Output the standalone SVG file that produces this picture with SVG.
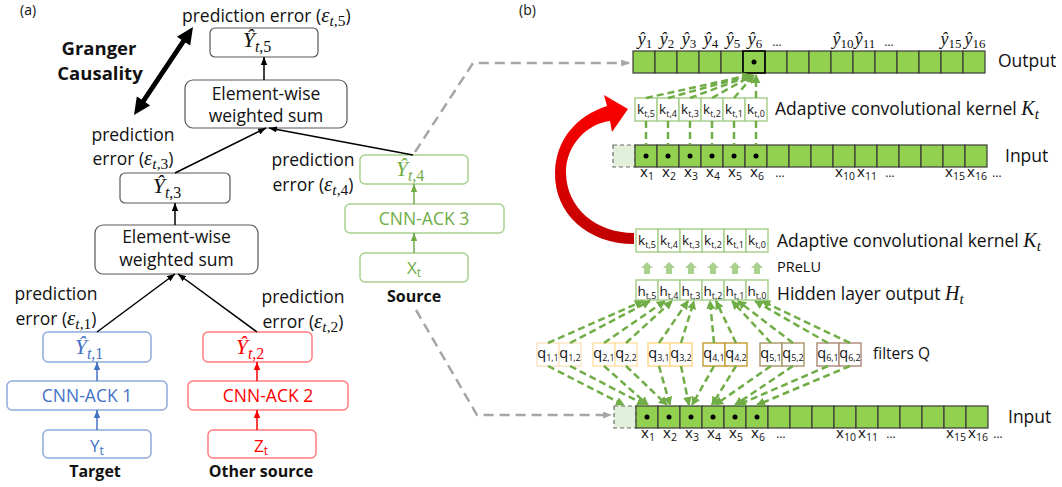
<svg xmlns="http://www.w3.org/2000/svg" xmlns:xlink="http://www.w3.org/1999/xlink" width="1062" height="487" viewBox="0 0 1062 487">
<defs>
<style>
.t{font-family:"Open Sans","Liberation Sans",sans-serif;fill:#111}
.b{font-family:"Open Sans","Liberation Sans",sans-serif;font-weight:bold;fill:#111}
.m{font-family:"Liberation Serif","DejaVu Serif",serif;font-style:italic}
.n{font-family:"Liberation Serif","DejaVu Serif",serif;font-style:normal}
.bx{fill:#fff;stroke:#595959;stroke-width:1.2}
.bl{fill:#fff;stroke:#8FAADC;stroke-width:1.5}
.rd{fill:#fff;stroke:#FF7C80;stroke-width:1.5}
.gr{fill:#fff;stroke:#A9D18E;stroke-width:1.5}
.cell{fill:#92D050;stroke:#3A3A3A;stroke-width:1.2}
.kc{fill:#fff;stroke:#A9D18E;stroke-width:1.5}
.pad{fill:#E2EFDA;stroke:#6B6B6B;stroke-width:1.2;stroke-dasharray:4 3}
.ln{stroke:#000;stroke-width:1.5;fill:none}
.gd{stroke:#70AD47;stroke-width:2.5;stroke-dasharray:7 4;fill:none}
.gy{stroke:#A6A6A6;stroke-width:2.5;stroke-dasharray:10 6;fill:none}
.lab{font-family:"Open Sans","Liberation Sans",sans-serif;font-size:13.5px;fill:#111}
</style>
<marker id="ak" viewBox="0 0 10 8" refX="10" refY="4" markerWidth="8" markerHeight="6.4" markerUnits="userSpaceOnUse" orient="auto"><path d="M0,0 L10,4 L0,8 z" fill="#000"/></marker>
<marker id="ab" viewBox="0 0 10 8" refX="10" refY="4" markerWidth="8" markerHeight="6.4" markerUnits="userSpaceOnUse" orient="auto"><path d="M0,0 L10,4 L0,8 z" fill="#4472C4"/></marker>
<marker id="ar" viewBox="0 0 10 8" refX="10" refY="4" markerWidth="8" markerHeight="6.4" markerUnits="userSpaceOnUse" orient="auto"><path d="M0,0 L10,4 L0,8 z" fill="#FF0000"/></marker>
<marker id="ag" viewBox="0 0 10 8" refX="10" refY="4" markerWidth="8" markerHeight="6.4" markerUnits="userSpaceOnUse" orient="auto"><path d="M0,0 L10,4 L0,8 z" fill="#70AD47"/></marker>
<marker id="agd" viewBox="0 0 10 10" refX="9" refY="5" markerWidth="9" markerHeight="9" markerUnits="userSpaceOnUse" orient="auto"><path d="M0,0 L10,5 L0,10 z" fill="#70AD47"/></marker>
<marker id="agy" viewBox="0 0 10 8" refX="9" refY="4" markerWidth="9" markerHeight="7" markerUnits="userSpaceOnUse" orient="auto"><path d="M0,0 L10,4 L0,8 z" fill="#A6A6A6"/></marker>
<linearGradient id="redg" x1="0" y1="0" x2="0" y2="1">
<stop offset="0" stop-color="#FF0000"/>
<stop offset="1" stop-color="#C00000"/>
</linearGradient>
<g id="row">
<rect class="cell" x="0" y="0" width="22" height="22"/><rect class="cell" x="22" y="0" width="22" height="22"/><rect class="cell" x="44" y="0" width="22" height="22"/><rect class="cell" x="66" y="0" width="22" height="22"/>
<rect class="cell" x="88" y="0" width="22" height="22"/><rect class="cell" x="110" y="0" width="22" height="22"/><rect class="cell" x="132" y="0" width="22" height="22"/><rect class="cell" x="154" y="0" width="22" height="22"/>
<rect class="cell" x="176" y="0" width="22" height="22"/><rect class="cell" x="198" y="0" width="22" height="22"/><rect class="cell" x="220" y="0" width="22" height="22"/><rect class="cell" x="242" y="0" width="22" height="22"/>
<rect class="cell" x="264" y="0" width="22" height="22"/><rect class="cell" x="286" y="0" width="22" height="22"/><rect class="cell" x="308" y="0" width="22" height="22"/><rect class="cell" x="330" y="0" width="22" height="22"/>
</g>
<g id="dots6">
<circle cx="11" cy="11" r="2.5"/><circle cx="33" cy="11" r="2.5"/><circle cx="55" cy="11" r="2.5"/><circle cx="77" cy="11" r="2.5"/><circle cx="99" cy="11" r="2.5"/><circle cx="121" cy="11" r="2.5"/>
</g>
<g id="xlabels" class="t" font-size="15" text-anchor="middle">
<text x="12" y="0">x<tspan font-size="10.5" dy="3">1</tspan></text>
<text x="34" y="0">x<tspan font-size="10.5" dy="3">2</tspan></text>
<text x="56" y="0">x<tspan font-size="10.5" dy="3">3</tspan></text>
<text x="78" y="0">x<tspan font-size="10.5" dy="3">4</tspan></text>
<text x="100" y="0">x<tspan font-size="10.5" dy="3">5</tspan></text>
<text x="122" y="0">x<tspan font-size="10.5" dy="3">6</tspan></text>
<text x="145" y="0" font-size="12">…</text>
<text x="210" y="0">x<tspan font-size="10.5" dy="3">10</tspan></text>
<text x="232" y="0">x<tspan font-size="10.5" dy="3">11</tspan></text>
<text x="255" y="0" font-size="12">…</text>
<text x="320" y="0">x<tspan font-size="10.5" dy="3">15</tspan></text>
<text x="342" y="0">x<tspan font-size="10.5" dy="3">16</tspan></text>
<text x="362" y="0" font-size="12">…</text>
</g>
<g id="klabels" class="lab" text-anchor="middle">
<text x="11" y="0">k<tspan font-size="9" dy="3">t,5</tspan></text>
<text x="33" y="0">k<tspan font-size="9" dy="3">t,4</tspan></text>
<text x="55" y="0">k<tspan font-size="9" dy="3">t,3</tspan></text>
<text x="77" y="0">k<tspan font-size="9" dy="3">t,2</tspan></text>
<text x="99" y="0">k<tspan font-size="9" dy="3">t,1</tspan></text>
<text x="121" y="0">k<tspan font-size="9" dy="3">t,0</tspan></text>
</g>
<g id="kcells">
<rect class="kc" x="0" y="0" width="22" height="23"/><rect class="kc" x="22" y="0" width="22" height="23"/><rect class="kc" x="44" y="0" width="22" height="23"/><rect class="kc" x="66" y="0" width="22" height="23"/><rect class="kc" x="88" y="0" width="22" height="23"/><rect class="kc" x="110" y="0" width="22" height="23"/>
</g>
<path id="prelu" d="M0,0 L6,6 L3,6 L3,12 L-3,12 L-3,6 L-6,6 z" fill="#A9D18E"/>
</defs>

<!-- ===== Panel (a) ===== -->
<text class="t" x="20" y="15" font-size="14">(a)</text>

<g id="granger">
<polygon points="193,27 190.2,45.6 185.5,42.4 145.5,102.2 150.1,105.4 134,115 136.8,96.4 141.5,99.6 181.5,39.8 176.9,36.7" fill="#000"/>
<text class="b" x="99" y="55" font-size="18.5" text-anchor="middle">Granger</text>
<text class="b" x="100" y="80" font-size="18.5" text-anchor="middle">Causality</text>
</g>

<g id="err5">
<text class="t" x="182" y="22" font-size="17.5">prediction error (<tspan class="m" font-size="21">ε</tspan><tspan class="m" font-size="15.5" dy="4">t</tspan><tspan class="n" font-size="15.5">,5</tspan><tspan dy="-4">)</tspan></text>
</g>

<g id="yhat5">
<rect class="bx" x="210" y="28" width="108" height="29" rx="5"/>
<text class="m" x="257" y="47" font-size="22" text-anchor="middle" fill="#111">Ŷ<tspan font-size="16" dy="5">t</tspan><tspan class="n" font-size="16">,5</tspan></text>
</g>

<g id="ews_top">
<rect class="bx" x="185" y="80" width="162" height="48" rx="8"/>
<text class="t" x="266" y="100" font-size="17.5" text-anchor="middle">Element-wise</text>
<text class="t" x="266" y="122" font-size="17.5" text-anchor="middle">weighted sum</text>
</g>

<g id="err3">
<text class="t" x="133" y="141" font-size="17.5" text-anchor="middle">prediction</text>
<text class="t" x="133" y="165" font-size="17.5" text-anchor="middle">error (<tspan class="m" font-size="21">ε</tspan><tspan class="m" font-size="15.5" dy="4">t</tspan><tspan class="n" font-size="15.5">,3</tspan><tspan dy="-4">)</tspan></text>
</g>

<g id="yhat3">
<rect class="bx" x="120" y="173" width="110" height="30" rx="5"/>
<text class="m" x="167" y="193" font-size="22" text-anchor="middle" fill="#111">Ŷ<tspan font-size="16" dy="5">t</tspan><tspan class="n" font-size="16">,3</tspan></text>
</g>

<g id="err4">
<text class="t" x="313" y="166" font-size="17.5" text-anchor="middle">prediction</text>
<text class="t" x="313" y="191" font-size="17.5" text-anchor="middle">error (<tspan class="m" font-size="21">ε</tspan><tspan class="m" font-size="15.5" dy="4">t</tspan><tspan class="n" font-size="15.5">,4</tspan><tspan dy="-4">)</tspan></text>
</g>

<g id="ews_low">
<rect class="bx" x="95" y="225" width="163" height="49" rx="8"/>
<text class="t" x="176.5" y="243" font-size="17.5" text-anchor="middle">Element-wise</text>
<text class="t" x="176.5" y="266" font-size="17.5" text-anchor="middle">weighted sum</text>
</g>

<g id="err1">
<text class="t" x="56" y="300" font-size="17.5" text-anchor="middle">prediction</text>
<text class="t" x="56" y="325" font-size="17.5" text-anchor="middle">error (<tspan class="m" font-size="21">ε</tspan><tspan class="m" font-size="15.5" dy="4">t</tspan><tspan class="n" font-size="15.5">,1</tspan><tspan dy="-4">)</tspan></text>
</g>

<g id="err2">
<text class="t" x="303" y="303" font-size="17.5" text-anchor="middle">prediction</text>
<text class="t" x="303" y="328" font-size="17.5" text-anchor="middle">error (<tspan class="m" font-size="21">ε</tspan><tspan class="m" font-size="15.5" dy="4">t</tspan><tspan class="n" font-size="15.5">,2</tspan><tspan dy="-4">)</tspan></text>
</g>

<g id="yhat1">
<rect class="bl" x="43" y="332" width="108" height="30" rx="5"/>
<text class="m" x="89" y="354" font-size="22" text-anchor="middle" fill="#4472C4">Ŷ<tspan font-size="16" dy="5">t</tspan><tspan class="n" font-size="16">,1</tspan></text>
</g>
<g id="cnn1">
<rect class="bl" x="7" y="381" width="160" height="29" rx="5"/>
<text class="t" x="87" y="402" font-size="17.5" text-anchor="middle" style="fill:#4472C4">CNN-ACK 1</text>
</g>
<g id="yt">
<rect class="bl" x="43" y="430" width="108" height="28" rx="5"/>
<text class="t" x="97" y="452" font-size="17" text-anchor="middle" style="fill:#4472C4">Y<tspan font-size="12" dy="3">t</tspan></text>
</g>
<text class="b" x="95" y="477" font-size="16" text-anchor="middle">Target</text>

<g id="yhat2">
<rect class="rd" x="203" y="332" width="109" height="30" rx="5"/>
<text class="m" x="250" y="354" font-size="22" text-anchor="middle" fill="#FF0000">Ŷ<tspan font-size="16" dy="5">t</tspan><tspan class="n" font-size="16">,2</tspan></text>
</g>
<g id="cnn2">
<rect class="rd" x="188" y="381" width="160" height="29" rx="5"/>
<text class="t" x="268" y="402" font-size="17.5" text-anchor="middle" style="fill:#FF0000">CNN-ACK 2</text>
</g>
<g id="zt">
<rect class="rd" x="208" y="430" width="108" height="28" rx="5"/>
<text class="t" x="261" y="452" font-size="17" text-anchor="middle" style="fill:#FF0000">Z<tspan font-size="12" dy="3">t</tspan></text>
</g>
<text class="b" x="261" y="477" font-size="16" text-anchor="middle">Other source</text>

<g id="yhat4">
<rect class="gr" x="360" y="155" width="108" height="29" rx="5"/>
<text class="m" x="410" y="176" font-size="22" text-anchor="middle" fill="#70AD47">Ŷ<tspan font-size="16" dy="5">t</tspan><tspan class="n" font-size="16">,4</tspan></text>
</g>
<g id="cnn3">
<rect class="gr" x="345" y="204" width="159" height="29" rx="5"/>
<text class="t" x="424" y="225" font-size="17.5" text-anchor="middle" style="fill:#70AD47">CNN-ACK 3</text>
</g>
<g id="xt">
<rect class="gr" x="360" y="253" width="108" height="29" rx="5"/>
<text class="t" x="414" y="274" font-size="17" text-anchor="middle" style="fill:#70AD47">X<tspan font-size="12" dy="3">t</tspan></text>
</g>
<text class="b" x="414" y="302" font-size="16" text-anchor="middle">Source</text>

<!-- ===== Panel (b) ===== -->
<text class="t" x="519" y="15" font-size="14">(b)</text>

<g id="output_row">
<use xlink:href="#row" href="#row" x="633" y="51"/>
<rect x="743" y="51" width="22" height="22" fill="none" stroke="#000" stroke-width="1.5"/>
<circle cx="754" cy="62" r="2.5"/>
<g class="m" font-size="18" text-anchor="middle" fill="#111">
<text x="645" y="45">ŷ<tspan class="n" font-size="13" dy="3">1</tspan></text>
<text x="667" y="45">ŷ<tspan class="n" font-size="13" dy="3">2</tspan></text>
<text x="689" y="45">ŷ<tspan class="n" font-size="13" dy="3">3</tspan></text>
<text x="711" y="45">ŷ<tspan class="n" font-size="13" dy="3">4</tspan></text>
<text x="733" y="45">ŷ<tspan class="n" font-size="13" dy="3">5</tspan></text>
<text x="755" y="45">ŷ<tspan class="n" font-size="13" dy="3">6</tspan></text>
<text x="843" y="45">ŷ<tspan class="n" font-size="13" dy="3">10</tspan></text>
<text x="865" y="45">ŷ<tspan class="n" font-size="13" dy="3">11</tspan></text>
<text x="951" y="45">ŷ<tspan class="n" font-size="13" dy="3">15</tspan></text>
<text x="975" y="45">ŷ<tspan class="n" font-size="13" dy="3">16</tspan></text>
</g>
<text class="t" x="777" y="46" font-size="12" text-anchor="middle">…</text>
<text class="t" x="889" y="46" font-size="12" text-anchor="middle">…</text>
<text class="t" x="998" y="67" font-size="17.5">Output</text>
</g>

<g id="kernel_top">
<use xlink:href="#kcells" href="#kcells" x="635" y="98"/>
<use xlink:href="#klabels" href="#klabels" x="635" y="114"/>
<text class="t" x="775" y="115" font-size="17.5">Adaptive convolutional kernel <tspan class="m" font-size="20">K</tspan><tspan class="m" font-size="15" dy="4">t</tspan></text>
</g>

<g id="input_top">
<rect class="pad" x="613" y="145" width="22" height="22"/>
<use xlink:href="#row" href="#row" x="635" y="145"/>
<use xlink:href="#dots6" href="#dots6" x="635" y="145"/>
<use xlink:href="#xlabels" href="#xlabels" x="635" y="177"/>
<text class="t" x="1005" y="162" font-size="17.5">Input</text>
</g>

<g id="red_arrow">
<path d="M634,244 C588,244 554,214 555,172 C556,140 576,116 607,106 L604,95 L628,109 L612,132 L610,121 C586,124 566,146 566,172 C566,208 596,233 634,233 Z" fill="url(#redg)"/>
</g>

<g id="kernel_low">
<use xlink:href="#kcells" href="#kcells" x="636" y="229"/>
<use xlink:href="#klabels" href="#klabels" x="636" y="245"/>
<text class="t" x="777" y="247" font-size="17.5">Adaptive convolutional kernel <tspan class="m" font-size="20">K</tspan><tspan class="m" font-size="15" dy="4">t</tspan></text>
</g>

<g id="prelu_arrows">
<use xlink:href="#prelu" href="#prelu" x="647" y="262"/>
<use xlink:href="#prelu" href="#prelu" x="669" y="262"/>
<use xlink:href="#prelu" href="#prelu" x="691" y="262"/>
<use xlink:href="#prelu" href="#prelu" x="713" y="262"/>
<use xlink:href="#prelu" href="#prelu" x="735" y="262"/>
<use xlink:href="#prelu" href="#prelu" x="757" y="262"/>
<text class="t" x="777" y="272" font-size="14.5">PReLU</text>
</g>

<g id="hidden">
<rect class="kc" x="636" y="280" width="22" height="20"/><rect class="kc" x="658" y="280" width="22" height="20"/><rect class="kc" x="680" y="280" width="22" height="20"/><rect class="kc" x="702" y="280" width="22" height="20"/><rect class="kc" x="724" y="280" width="22" height="20"/><rect class="kc" x="746" y="280" width="22" height="20"/>
<g class="lab" text-anchor="middle">
<text x="647" y="296">h<tspan font-size="9" dy="3">t,5</tspan></text>
<text x="669" y="296">h<tspan font-size="9" dy="3">t,4</tspan></text>
<text x="691" y="296">h<tspan font-size="9" dy="3">t,3</tspan></text>
<text x="713" y="296">h<tspan font-size="9" dy="3">t,2</tspan></text>
<text x="735" y="296">h<tspan font-size="9" dy="3">t,1</tspan></text>
<text x="757" y="296">h<tspan font-size="9" dy="3">t,0</tspan></text>
</g>
<text class="t" x="777" y="300" font-size="17.5">Hidden layer output <tspan class="m" font-size="20">H</tspan><tspan class="m" font-size="15" dy="4">t</tspan></text>
</g>

<g id="filters">
<rect x="537" y="343" width="22" height="23" fill="#fff" stroke="#FBE5C8" stroke-width="1.5"/><rect x="559" y="343" width="22" height="23" fill="#fff" stroke="#FBE5C8" stroke-width="1.5"/>
<rect x="593" y="343" width="22" height="23" fill="#fff" stroke="#FFE2A8" stroke-width="1.5"/><rect x="615" y="343" width="22" height="23" fill="#fff" stroke="#FFE2A8" stroke-width="1.5"/>
<rect x="648" y="343" width="22" height="23" fill="#fff" stroke="#FFD98C" stroke-width="1.5"/><rect x="670" y="343" width="22" height="23" fill="#fff" stroke="#FFD98C" stroke-width="1.5"/>
<rect x="703" y="343" width="22" height="23" fill="#fff" stroke="#C9A13A" stroke-width="1.5"/><rect x="725" y="343" width="22" height="23" fill="#fff" stroke="#C9A13A" stroke-width="1.5"/>
<rect x="760" y="343" width="22" height="23" fill="#fff" stroke="#AE9A6E" stroke-width="1.5"/><rect x="782" y="343" width="22" height="23" fill="#fff" stroke="#AE9A6E" stroke-width="1.5"/>
<rect x="817" y="343" width="22" height="23" fill="#fff" stroke="#B48F7F" stroke-width="1.5"/><rect x="839" y="343" width="22" height="23" fill="#fff" stroke="#B48F7F" stroke-width="1.5"/>
<g class="lab" text-anchor="middle" font-size="14.5" style="font-size:14.5px">
<text x="548" y="358">q<tspan font-size="9" dy="3">1,1</tspan></text><text x="570" y="358">q<tspan font-size="9" dy="3">1,2</tspan></text>
<text x="604" y="358">q<tspan font-size="9" dy="3">2,1</tspan></text><text x="626" y="358">q<tspan font-size="9" dy="3">2,2</tspan></text>
<text x="659" y="358">q<tspan font-size="9" dy="3">3,1</tspan></text><text x="681" y="358">q<tspan font-size="9" dy="3">3,2</tspan></text>
<text x="714" y="358">q<tspan font-size="9" dy="3">4,1</tspan></text><text x="736" y="358">q<tspan font-size="9" dy="3">4,2</tspan></text>
<text x="771" y="358">q<tspan font-size="9" dy="3">5,1</tspan></text><text x="793" y="358">q<tspan font-size="9" dy="3">5,2</tspan></text>
<text x="828" y="358">q<tspan font-size="9" dy="3">6,1</tspan></text><text x="850" y="358">q<tspan font-size="9" dy="3">6,2</tspan></text>
</g>
<text class="t" x="873" y="359" font-size="15.5">filters Q</text>
</g>

<g id="input_low">
<rect class="pad" x="614" y="406" width="22" height="22"/>
<use xlink:href="#row" href="#row" x="636" y="406"/>
<use xlink:href="#dots6" href="#dots6" x="636" y="406"/>
<use xlink:href="#xlabels" href="#xlabels" x="636" y="438"/>
<text class="t" x="1008" y="423" font-size="17.5">Input</text>
</g>

<g id="connectors">
<line class="ln" x1="264" y1="80" x2="264" y2="57" marker-end="url(#ak)"/>
<line class="ln" x1="175" y1="173" x2="266" y2="128" marker-end="url(#ak)"/>
<line class="ln" x1="413" y1="155" x2="269" y2="128" marker-end="url(#ak)"/>
<line class="ln" x1="175" y1="225" x2="175" y2="203" marker-end="url(#ak)"/>
<line class="ln" x1="97" y1="332" x2="175" y2="274" marker-end="url(#ak)"/>
<line class="ln" x1="257" y1="332" x2="178" y2="274" marker-end="url(#ak)"/>
<line x1="97" y1="381" x2="97" y2="362" stroke="#4472C4" stroke-width="1.5" marker-end="url(#ab)"/>
<line x1="97" y1="430" x2="97" y2="410" stroke="#4472C4" stroke-width="1.5" marker-end="url(#ab)"/>
<line x1="257" y1="381" x2="257" y2="362" stroke="#FF0000" stroke-width="1.5" marker-end="url(#ar)"/>
<line x1="257" y1="430" x2="257" y2="410" stroke="#FF0000" stroke-width="1.5" marker-end="url(#ar)"/>
<line x1="414" y1="204" x2="414" y2="184" stroke="#70AD47" stroke-width="1.5" marker-end="url(#ag)"/>
<line x1="414" y1="253" x2="414" y2="233" stroke="#70AD47" stroke-width="1.5" marker-end="url(#ag)"/>
<polyline class="gy" points="415,152 473,63 629,63" marker-end="url(#agy)"/>
<polyline class="gy" points="416,310 477,415 611,415" marker-end="url(#agy)"/>
<line class="gd" x1="646" y1="98" x2="750" y2="75" marker-end="url(#agd)"/>
<line class="gd" x1="668" y1="98" x2="751" y2="75" marker-end="url(#agd)"/>
<line class="gd" x1="690" y1="98" x2="752" y2="75" marker-end="url(#agd)"/>
<line class="gd" x1="712" y1="98" x2="753" y2="75" marker-end="url(#agd)"/>
<line class="gd" x1="734" y1="98" x2="754" y2="75" marker-end="url(#agd)"/>
<line class="gd" x1="756" y1="98" x2="756" y2="75" marker-end="url(#agd)"/>
<line class="gd" x1="646" y1="121" x2="646" y2="145"/>
<line class="gd" x1="668" y1="121" x2="668" y2="145"/>
<line class="gd" x1="690" y1="121" x2="690" y2="145"/>
<line class="gd" x1="712" y1="121" x2="712" y2="145"/>
<line class="gd" x1="734" y1="121" x2="734" y2="145"/>
<line class="gd" x1="756" y1="121" x2="756" y2="145"/>
<line class="gd" x1="548" y1="343" x2="643" y2="301" marker-end="url(#agd)"/>
<line class="gd" x1="570" y1="343" x2="650" y2="301" marker-end="url(#agd)"/>
<line class="gd" x1="604" y1="343" x2="665" y2="301" marker-end="url(#agd)"/>
<line class="gd" x1="626" y1="343" x2="672" y2="301" marker-end="url(#agd)"/>
<line class="gd" x1="659" y1="343" x2="688" y2="301" marker-end="url(#agd)"/>
<line class="gd" x1="681" y1="343" x2="694" y2="301" marker-end="url(#agd)"/>
<line class="gd" x1="714" y1="343" x2="710" y2="301" marker-end="url(#agd)"/>
<line class="gd" x1="736" y1="343" x2="716" y2="301" marker-end="url(#agd)"/>
<line class="gd" x1="771" y1="343" x2="732" y2="301" marker-end="url(#agd)"/>
<line class="gd" x1="793" y1="343" x2="738" y2="301" marker-end="url(#agd)"/>
<line class="gd" x1="828" y1="343" x2="755" y2="301" marker-end="url(#agd)"/>
<line class="gd" x1="850" y1="343" x2="762" y2="301" marker-end="url(#agd)"/>
<line class="gd" x1="548" y1="366" x2="624" y2="405" marker-end="url(#agd)"/>
<line class="gd" x1="570" y1="366" x2="645" y2="405" marker-end="url(#agd)"/>
<line class="gd" x1="604" y1="366" x2="648" y2="405" marker-end="url(#agd)"/>
<line class="gd" x1="626" y1="366" x2="667" y2="405" marker-end="url(#agd)"/>
<line class="gd" x1="659" y1="366" x2="670" y2="405" marker-end="url(#agd)"/>
<line class="gd" x1="681" y1="366" x2="689" y2="405" marker-end="url(#agd)"/>
<line class="gd" x1="714" y1="366" x2="692" y2="405" marker-end="url(#agd)"/>
<line class="gd" x1="736" y1="366" x2="712" y2="405" marker-end="url(#agd)"/>
<line class="gd" x1="771" y1="366" x2="715" y2="405" marker-end="url(#agd)"/>
<line class="gd" x1="793" y1="366" x2="735" y2="405" marker-end="url(#agd)"/>
<line class="gd" x1="828" y1="366" x2="738" y2="405" marker-end="url(#agd)"/>
<line class="gd" x1="850" y1="366" x2="757" y2="405" marker-end="url(#agd)"/>
</g>
</svg>
